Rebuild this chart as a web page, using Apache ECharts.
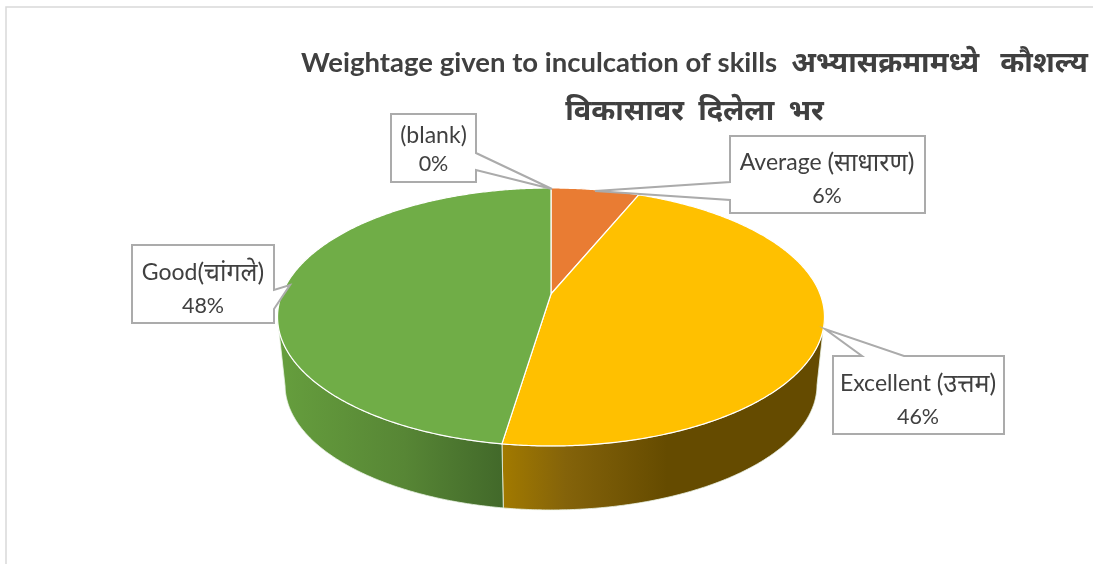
<!DOCTYPE html>
<html>
<head>
<meta charset="utf-8">
<style>html,body{margin:0;padding:0;background:#fff}#c{width:1093px;height:564px}</style>
<script src="https://cdn.jsdelivr.net/npm/echarts@6/dist/echarts.min.js"></script>
</head>
<body>
<div id="c"></div>
<script>
const categoriesLatin = ['(blank)', 'Average ', 'Excellent ', 'Good'];
const categoriesLocal = ['', '(साधारण)', '(उत्तम)', '(चांगले)'];
const shareValues = [0, 6.2, 46.2, 47.6];
const topColors = ['#A5A5A5', '#E97C33', '#FFC000', '#70AD47'];
const titleLatin = 'Weightage given to inculcation of skills';
const titleLocal1 = 'अभ्यासक्रमामध्ये   कौशल्य';
const titleLocal2 = 'विकासावर  दिलेला  भर';

const FONT = 'Lato, "Noto Sans Devanagari", "Noto Sans", sans-serif';
// perspective disc
const V = {x: 551, y: 294}, A = 269.1, B = 124.9, K = 0.178;
const TOPE = {cx: 551.5, cy: 317, rx: 273.5, ry: 129}, BOTE = {cx: 551.5, cy: 385, rx: 266, ry: 125};
function rim(theta) {
  const u = Math.sin(theta), v = Math.cos(theta), d = 1 + K * v;
  return [V.x + A * u / d, V.y - B * v / d];
}
function lowRim(p) {
  const ex = (p[0] - TOPE.cx) / TOPE.rx, ey = (p[1] - TOPE.cy) / TOPE.ry;
  return [BOTE.cx + BOTE.rx * ex, BOTE.cy + BOTE.ry * ey];
}
const total = shareValues.reduce((a, b) => a + b, 0);
function range(i) {
  let s = 0;
  for (let k = 0; k < i; k++) s += shareValues[k];
  return [s / total * 2 * Math.PI, (s + shareValues[i]) / total * 2 * Math.PI];
}
function arc(i) {
  const [a, b] = range(i), n = Math.max(2, Math.ceil((b - a) * 120)), pts = [];
  for (let k = 0; k <= n; k++) pts.push(rim(a + (b - a) * k / n));
  return pts;
}
const G = echarts.graphic.LinearGradient;
const wallFills = [
  '#888',
  '#B0602A',
  new G(502, 0, 820, 0, [{offset: 0, color: '#A27A00'}, {offset: 0.2, color: '#84630A'}, {offset: 0.52, color: '#654B00'}, {offset: 1, color: '#654B00'}], true),
  new G(285, 0, 502, 0, [{offset: 0, color: '#659D3D'}, {offset: 0.55, color: '#578635'}, {offset: 1, color: '#42692A'}], true)
];
const callouts = [
  {box: [391, 114, 476, 182], ptr: [[476, 153], [552, 189], [476, 170]], side: 'r', text: [433.5, 136, 164]},
  {box: [730, 136, 925, 213], ptr: [[730, 182], [595, 191], [730, 200]], side: 'l', text: [827, 163, 196]},
  {box: [833, 356, 1004, 434], ptr: [[904, 356], [825, 329], [862, 356]], side: 't', text: [918, 384, 417]},
  {box: [132, 245, 274, 323], ptr: [[274, 290], [290, 285], [274, 309]], side: 'r', text: [203, 273, 306]}
];
function calloutPoints(c) {
  const [l, t, r, b] = c.box, p = c.ptr;
  if (c.side === 'r') return [[l, t], [r, t], p[0], p[1], p[2], [r, b], [l, b]];
  if (c.side === 'l') return [[l, t], [r, t], [r, b], [l, b], p[2], p[1], p[0]];
  return [[l, t], p[2], p[1], p[0], [r, t], [r, b], [l, b]];
}
const dataIdx = shareValues.map((v, i) => [v, i]);
const LABEL_RICH = {
  a: {fontFamily: FONT, fontSize: 23, fill: '#404040', color: '#404040'},
  h: {fontFamily: FONT, fontSize: 25, fill: '#404040', color: '#404040'},
  p: {fontFamily: FONT, fontSize: 21.5, fill: '#404040', color: '#404040'}
};

const option = {
  animation: false,
  backgroundColor: '#fff',
  title: {
    text: '{l|' + titleLatin + '}{h|  ' + titleLocal1 + '}\n{h|' + titleLocal2 + '}',
    left: 689.5, top: 34, textAlign: 'center',
    textStyle: {
      fontFamily: FONT, fontWeight: 'bold', fontSize: 27.5, color: '#404040', lineHeight: 48,
      rich: {
        l: {fontFamily: FONT, fontWeight: 'bold', fontSize: 27.5, color: '#404040', lineHeight: 48},
        h: {fontFamily: FONT, fontWeight: 'bold', fontSize: 29, color: '#404040', lineHeight: 48}
      }
    }
  },
  graphic: [{
    type: 'polyline', silent: true, z: 0,
    shape: {points: [[6, 564], [6, 7], [1093, 7]]},
    style: {stroke: '#D9D9D9', lineWidth: 1.5, fill: null}
  }],
  series: [
    {
      type: 'custom', name: 'walls', coordinateSystem: 'none', z: 2, silent: true, data: dataIdx,
      renderItem(p, api) {
        const i = api.value(1), top = arc(i).filter(q => q[1] >= TOPE.cy);
        if (top.length < 2) return null;
        const low = top.map(lowRim).reverse();
        return {
          type: 'polygon', shape: {points: top.concat(low)},
          style: {fill: wallFills[i], stroke: '#EAF2E4', lineWidth: 0.8}
        };
      }
    },
    {
      type: 'custom', name: 'tops', coordinateSystem: 'none', z: 3, silent: true, data: dataIdx,
      renderItem(p, api) {
        const i = api.value(1);
        return {
          type: 'polygon', shape: {points: [[V.x, V.y]].concat(arc(i))},
          style: {fill: topColors[i], stroke: '#fff', lineWidth: 1.2, lineJoin: 'round'}
        };
      }
    },
    {
      type: 'custom', name: 'labels', coordinateSystem: 'none', z: 5, silent: true, data: dataIdx,
      renderItem(p, api) {
        const i = api.value(1), c = callouts[i], t = c.text;
        const txt = (s, y) => ({
          type: 'text',
          style: {x: t[0], y, text: s, fill: '#404040', fontFamily: FONT, fontSize: 22, align: 'center', verticalAlign: 'middle', rich: LABEL_RICH}
        });
        const head = '{a|' + categoriesLatin[i] + '}' + (categoriesLocal[i] ? '{h|' + categoriesLocal[i] + '}' : '');
        return {
          type: 'group',
          children: [
            {type: 'polygon', shape: {points: calloutPoints(c)}, style: {fill: '#fff', stroke: '#ABABAB', lineWidth: 2}},
            txt(head, t[1]),
            txt('{p|' + Math.round(api.value(0)) + '%}', t[2])
          ]
        };
      }
    }
  ]
};
const chart = echarts.init(document.getElementById('c'), null, {renderer: 'canvas'});
chart.setOption(option);
</script>
</body>
</html>
